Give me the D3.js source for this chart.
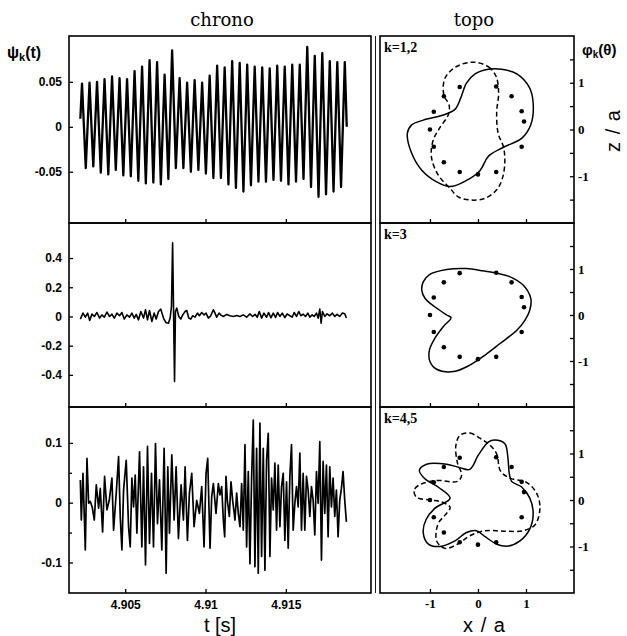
<!DOCTYPE html>
<html><head><meta charset="utf-8">
<script src="https://cdn.jsdelivr.net/npm/d3@7"></script>
<style>
html,body{margin:0;padding:0;background:#fff;}
svg{display:block;}
</style></head><body>
<svg id="chart" width="627" height="636"></svg>
<script>
// ---------------- data ----------------
// chrono series: times are in ms after T0 seconds
const T0 = 4.9;

// mode k=1,2: alternating extrema of the rotating oscillation
const psi12Start = [2.205, 0.009];
const psi12End = [18.79, 0.0];
const psi12FirstPeakMs = 2.31;
const psi12HalfPeriodMs = 0.2337;
const psi12Peaks = [0.048,0.049,0.050,0.053,0.056,0.054,0.053,0.062,0.067,0.074,0.072,0.058,0.085,0.054,0.049,0.052,0.049,0.057,0.068,0.066,0.073,0.071,0.069,0.067,0.066,0.065,0.068,0.067,0.069,0.069,0.089,0.079,0.082,0.073,0.072,0.072];
const psi12Troughs = [-0.046,-0.044,-0.051,-0.053,-0.048,-0.054,-0.055,-0.060,-0.063,-0.062,-0.064,-0.058,-0.046,-0.046,-0.050,-0.048,-0.052,-0.057,-0.057,-0.064,-0.068,-0.072,-0.065,-0.061,-0.061,-0.059,-0.060,-0.064,-0.061,-0.058,-0.067,-0.078,-0.075,-0.072,-0.067];

// mode k=3: [ms, value]
const psi3 = [[2.205,-0.018],[2.371,0.023],[2.516,-0.005],[2.661,0.023],[2.785,-0.027],[2.930,0.016],[3.075,0.000],[3.240,0.027],[3.406,-0.011],[3.551,0.011],[3.696,-0.005],[3.861,0.030],[4.027,0.000],[4.172,0.016],[4.317,-0.011],[4.483,0.023],[4.648,0.005],[4.793,0.027],[4.938,-0.018],[5.104,0.011],[5.269,-0.005],[5.414,0.023],[5.559,-0.011],[5.683,0.014],[5.828,-0.023],[5.973,0.034],[6.139,-0.011],[6.263,0.046],[6.387,-0.023],[6.511,0.041],[6.656,-0.034],[6.801,0.023],[6.926,-0.018],[7.071,0.034],[7.215,0.050],[7.381,-0.011],[7.526,-0.041],[7.692,-0.046],[7.795,-0.011],[7.878,0.068],[7.95,0.505],[8.07,-0.445],[8.126,0.034],[8.209,0.057],[8.334,0.000],[8.458,-0.018],[8.582,0.011],[8.727,0.034],[8.830,0.041],[8.955,-0.011],[9.079,-0.018],[9.203,0.005],[9.348,-0.005],[9.493,0.023],[9.617,0.005],[9.762,0.027],[9.907,0.011],[10.031,0.023],[10.176,-0.011],[10.321,0.005],[10.487,0.046],[10.590,0.023],[10.694,-0.005],[10.839,0.023],[10.963,0.009],[11.108,0.000],[11.315,0.014],[11.522,0.005],[11.729,0.000],[11.936,0.007],[12.143,0.000],[12.350,0.011],[12.557,-0.005],[12.764,0.018],[12.930,0.000],[13.095,0.014],[13.220,-0.005],[13.344,0.034],[13.489,-0.011],[13.634,0.023],[13.800,-0.005],[13.924,0.027],[14.069,-0.009],[14.214,0.023],[14.358,-0.007],[14.483,0.027],[14.628,0.000],[14.772,0.023],[14.938,-0.007],[15.083,0.018],[15.249,0.005],[15.394,-0.005],[15.518,0.027],[15.663,0.000],[15.808,0.034],[15.932,0.005],[16.077,0.016],[16.222,0.000],[16.367,0.023],[16.491,-0.005],[16.636,0.011],[16.760,0.000],[16.905,0.023],[17.009,-0.011],[17.112,0.050],[17.195,-0.046],[17.278,0.034],[17.423,0.000],[17.567,0.018],[17.733,0.005],[17.899,0.023],[18.044,0.000],[18.189,0.014],[18.354,0.000],[18.520,0.023],[18.665,0.018],[18.768,-0.011]];

// mode k=4,5: [ms, value]
const psi45 = [[2.205,0.038],[2.267,-0.029],[2.371,0.049],[2.516,-0.079],[2.619,0.074],[2.723,-0.001],[2.826,0.002],[2.950,-0.008],[3.075,-0.029],[3.199,0.030],[3.344,-0.009],[3.447,0.024],[3.592,-0.049],[3.716,0.044],[3.861,-0.012],[4.006,0.004],[4.172,0.041],[4.275,-0.046],[4.441,0.016],[4.586,0.077],[4.690,-0.023],[4.793,-0.079],[4.897,0.021],[5.062,0.071],[5.207,-0.040],[5.311,-0.074],[5.414,0.041],[5.518,-0.007],[5.621,0.046],[5.725,-0.051],[5.891,0.085],[6.035,-0.074],[6.139,0.060],[6.263,-0.104],[6.387,0.094],[6.511,-0.068],[6.636,0.049],[6.760,-0.074],[6.884,0.099],[7.008,-0.035],[7.133,0.038],[7.278,-0.079],[7.422,0.091],[7.547,-0.118],[7.650,0.060],[7.754,-0.051],[7.899,0.080],[8.044,-0.029],[8.168,0.060],[8.313,-0.060],[8.478,0.030],[8.623,-0.029],[8.727,0.060],[8.872,-0.063],[8.996,0.016],[9.141,0.049],[9.286,-0.040],[9.451,0.004],[9.617,-0.018],[9.762,0.027],[9.907,-0.074],[10.031,0.049],[10.135,0.074],[10.280,-0.076],[10.383,0.010],[10.487,0.032],[10.652,-0.018],[10.797,0.032],[10.901,0.013],[11.005,0.027],[11.108,-0.029],[11.191,-0.057],[11.274,0.044],[11.356,0.004],[11.481,-0.023],[11.584,0.035],[11.688,0.004],[11.833,-0.029],[11.936,0.016],[12.040,-0.018],[12.143,-0.040],[12.247,0.032],[12.350,-0.046],[12.454,0.097],[12.557,-0.074],[12.661,0.052],[12.764,-0.102],[12.868,0.041],[12.971,0.138],[13.075,-0.107],[13.178,0.091],[13.282,-0.118],[13.385,0.133],[13.489,-0.090],[13.593,0.091],[13.696,-0.113],[13.800,0.071],[13.903,0.116],[14.007,-0.090],[14.110,0.041],[14.214,-0.012],[14.317,0.066],[14.421,-0.046],[14.524,0.063],[14.628,-0.040],[14.731,0.027],[14.835,0.049],[14.938,-0.063],[15.042,0.035],[15.145,-0.076],[15.249,0.044],[15.352,0.097],[15.456,-0.046],[15.559,-0.001],[15.663,0.027],[15.766,-0.007],[15.870,0.083],[15.973,-0.046],[16.077,0.049],[16.180,-0.046],[16.284,0.044],[16.387,0.021],[16.491,-0.023],[16.594,0.027],[16.698,0.004],[16.801,-0.054],[16.905,0.052],[17.009,-0.001],[17.112,0.102],[17.216,-0.096],[17.319,0.069],[17.423,-0.018],[17.526,0.063],[17.630,-0.057],[17.733,0.060],[17.837,-0.007],[17.940,0.041],[18.044,-0.023],[18.147,0.021],[18.251,-0.057],[18.354,0.004],[18.458,0.024],[18.561,0.052],[18.665,0.004],[18.768,-0.032]];

// axis ticks
const timeTicks = [4.905, 4.91, 4.915];
const psi12Ticks = [-0.05, 0, 0.05];
const psi3Ticks = [-0.4, -0.2, 0, 0.2, 0.4];
const psi45Ticks = [-0.1, 0, 0.1];
const psi45Minor = [-0.05, 0.05];
const topoTicks = [-1, 0, 1];
const topoMinor = [-1.5, -0.5, 0.5, 1.5];

// topo: probe positions [x/a, z/a]
const probes = [[-0.38,0.91],[0.38,0.92],[-0.71,0.71],[0.70,0.71],[-0.92,0.38],[0.91,0.39],[0.96,0.17],[-1.00,0.0],[-0.92,-0.37],[0.91,-0.37],[-0.71,-0.70],[-0.38,-0.91],[0.0,-0.96],[0.38,-0.91]];

// topo curves [x/a, z/a]
const topo1 = [[-1.47,-0.08],[-1.38,-0.51],[-1.17,-0.87],[-0.86,-1.12],[-0.58,-1.22],[-0.24,-1.09],[0.04,-0.88],[0.22,-0.57],[0.53,-0.38],[0.91,-0.19],[1.10,0.10],[1.15,0.56],[1.07,0.90],[0.81,1.19],[0.49,1.29],[0.22,1.29],[-0.06,1.19],[-0.24,0.99],[-0.36,0.67],[-0.48,0.43],[-0.72,0.31],[-1.14,0.20],[-1.38,0.10]];
const topo2 = [[-0.10,1.44],[0.22,1.34],[0.38,1.13],[0.43,0.77],[0.39,0.38],[0.42,-0.08],[0.53,-0.37],[0.56,-0.69],[0.51,-1.04],[0.39,-1.29],[0.15,-1.47],[-0.13,-1.51],[-0.41,-1.44],[-0.58,-1.26],[-0.83,-0.97],[-0.97,-0.58],[-0.93,-0.22],[-0.78,0.06],[-0.62,0.31],[-0.60,0.52],[-0.71,0.74],[-0.69,1.09],[-0.46,1.34]];
const topo3 = [[-1.14,0.72],[-1.01,0.88],[-0.65,0.99],[-0.24,1.01],[0.11,0.96],[0.39,0.91],[0.67,0.83],[0.94,0.65],[1.10,0.36],[1.08,0.11],[0.98,-0.11],[0.81,-0.33],[0.46,-0.62],[0.15,-0.87],[-0.17,-1.09],[-0.51,-1.23],[-0.86,-1.18],[-1.00,-1.01],[-1.01,-0.76],[-0.90,-0.51],[-0.72,-0.25],[-0.56,-0.06],[-0.65,0.0],[-0.90,0.18],[-1.10,0.36],[-1.17,0.54]];
const topo4 = [[0.22,1.25],[0.35,1.29],[0.56,1.21],[0.62,0.95],[0.65,0.59],[0.70,0.40],[0.91,0.28],[1.08,0.04],[1.15,-0.29],[1.08,-0.62],[0.875,-0.88],[0.63,-0.99],[0.39,-0.95],[0.15,-0.79],[-0.03,-0.66],[-0.24,-0.70],[-0.48,-0.88],[-0.79,-1.00],[-1.03,-0.95],[-1.14,-0.70],[-1.08,-0.42],[-0.90,-0.18],[-0.58,0.04],[-0.83,0.28],[-1.10,0.45],[-1.22,0.64],[-1.07,0.77],[-0.65,0.77],[-0.39,0.70],[-0.17,0.66],[0.01,0.97]];
const topo5 = [[-0.375,1.39],[-0.17,1.44],[0.04,1.33],[0.24,1.19],[0.39,0.99],[0.47,0.62],[0.67,0.47],[1.01,0.38],[1.22,0.15],[1.29,-0.18],[1.19,-0.53],[0.94,-0.66],[0.53,-0.67],[0.15,-0.66],[-0.17,-0.77],[-0.41,-0.94],[-0.69,-1.04],[-0.86,-0.88],[-0.83,-0.51],[-0.69,-0.33],[-0.58,-0.16],[-0.76,-0.04],[-1.00,0.0],[-1.28,0.06],[-1.33,0.21],[-1.21,0.33],[-0.86,0.42],[-0.43,0.40],[-0.34,0.53],[-0.43,0.81],[-0.46,1.17]];

const modeLabels = ["k=1,2", "k=3", "k=4,5"];

// ---------------- layout ----------------
const svg = d3.select("#chart");
const L = {x0: 69, x1: 371};
const R = {x0: 380, x1: 574};
const rows = [[36, 223], [223, 407], [407, 593]];

const SANS = "'Liberation Sans', Arial, sans-serif";
const SERIF = "'Liberation Serif', 'Times New Roman', serif";

const tScale = d3.scaleLinear().domain([4.9015, 4.9203]).range([L.x0, L.x1]);
const yDomains = [[-0.107, 0.101], [-0.62, 0.64], [-0.151, 0.160]];
const yScales = rows.map((r, i) => d3.scaleLinear().domain(yDomains[i]).range([r[1], r[0]]));
const xTopo = d3.scaleLinear().domain([-2.04, 2.0]).range([R.x0, R.x1]);
const zTopos = rows.map(r => d3.scaleLinear().domain([-2, 2]).range([r[1], r[0]]));

// headers
svg.append("text").attr("x", 222).attr("y", 26).attr("text-anchor", "middle")
  .style("font-family", "'DejaVu Serif', serif").style("font-size", "18px").text("chrono");
svg.append("text").attr("x", 474).attr("y", 26).attr("text-anchor", "middle")
  .style("font-family", "'DejaVu Serif', serif").style("font-size", "18px").text("topo");

// axis helper: style ticks and labels
function styleAxis(g, font, size, weight) {
  g.select(".domain").remove();
  g.selectAll(".tick line").attr("stroke", "#000").attr("stroke-width", 1.3);
  g.selectAll(".tick text").attr("fill", "#000")
    .style("font-family", font).style("font-size", size + "px").style("font-weight", weight);
}
const fmt = d => String(d);

// ---------------- chrono panels ----------------
const chronoTicks = [psi12Ticks, psi3Ticks, psi45Ticks];
const psi12 = [psi12Start];
psi12Peaks.forEach((p, i) => {
  psi12.push([psi12FirstPeakMs + 2 * i * psi12HalfPeriodMs, p]);
  if (i < psi12Troughs.length) psi12.push([psi12FirstPeakMs + (2 * i + 1) * psi12HalfPeriodMs, psi12Troughs[i]]);
});
psi12.push(psi12End);
const chronoSeries = [psi12, psi3, psi45];
const chronoWidths = [2.3, 1.6, 1.7];

rows.forEach((r, i) => {
  const y = yScales[i];
  // y axis, ticks pointing inward
  const ga = svg.append("g").attr("transform", `translate(${L.x0},0)`)
    .call(d3.axisLeft(y).tickValues(chronoTicks[i]).tickFormat(fmt).tickSizeInner(-4).tickSizeOuter(0).tickPadding(7));
  styleAxis(ga, SANS, 12, "bold");
  if (i === 2) {
    const gm = svg.append("g").attr("transform", `translate(${L.x0},0)`)
      .call(d3.axisLeft(y).tickValues(psi45Minor).tickFormat("").tickSizeInner(-3).tickSizeOuter(0));
    styleAxis(gm, SANS, 12, "bold");
  }
  // time axis at the bottom of every panel
  const gx = svg.append("g").attr("transform", `translate(0,${r[1]})`)
    .call(d3.axisBottom(tScale).tickValues(timeTicks).tickFormat(i === 2 ? fmt : "").tickSizeInner(-4).tickSizeOuter(0).tickPadding(7));
  styleAxis(gx, SANS, 12, "bold");

  const line = d3.line().x(d => tScale(T0 + d[0] / 1000)).y(d => y(d[1]));
  svg.append("path").datum(chronoSeries[i]).attr("d", line)
    .attr("fill", "none").attr("stroke", "#000").attr("stroke-width", chronoWidths[i])
    .attr("stroke-linejoin", "round");

  svg.append("rect").attr("x", L.x0).attr("y", r[0]).attr("width", L.x1 - L.x0).attr("height", r[1] - r[0])
    .attr("fill", "none").attr("stroke", "#000").attr("stroke-width", 1.6);
});
// inner rule between the two columns
svg.append("line").attr("x1", 375.5).attr("x2", 375.5).attr("y1", 36).attr("y2", 593)
  .attr("stroke", "#000").attr("stroke-width", 0.9);

// ---------------- topo panels ----------------
const topoCurves = [[topo1, topo2], [topo3], [topo4, topo5]];
rows.forEach((r, i) => {
  const z = zTopos[i];
  const gr = svg.append("g").attr("transform", `translate(${R.x1},0)`)
    .call(d3.axisRight(z).tickValues(topoTicks).tickFormat(fmt).tickSizeInner(-4).tickSizeOuter(0).tickPadding(4));
  styleAxis(gr, SERIF, 13, "bold");
  const grm = svg.append("g").attr("transform", `translate(${R.x1},0)`)
    .call(d3.axisRight(z).tickValues(topoMinor).tickFormat("").tickSizeInner(-4).tickSizeOuter(0));
  styleAxis(grm, SERIF, 13, "bold");
  const gb = svg.append("g").attr("transform", `translate(0,${r[1]})`)
    .call(d3.axisBottom(xTopo).tickValues(topoTicks).tickFormat(i === 2 ? fmt : "").tickSizeInner(-4).tickSizeOuter(0).tickPadding(6));
  styleAxis(gb, SERIF, 13, "bold");

  const line = d3.line().x(d => xTopo(d[0])).y(d => z(d[1])).curve(d3.curveCatmullRomClosed.alpha(0.5));
  topoCurves[i].forEach((c, j) => {
    svg.append("path").datum(c).attr("d", line)
      .attr("fill", "none").attr("stroke", "#000").attr("stroke-width", 1.5)
      .attr("stroke-dasharray", j === 1 ? "5,3" : null);
  });
  svg.append("g").selectAll("circle").data(probes).join("circle")
    .attr("cx", d => xTopo(d[0])).attr("cy", d => z(d[1])).attr("r", 2.3).attr("fill", "#000");

  svg.append("text").attr("x", R.x0 + 4).attr("y", r[0] + 16)
    .style("font-family", SERIF).style("font-size", "14px").style("font-weight", "bold")
    .text(modeLabels[i]);

  svg.append("rect").attr("x", R.x0).attr("y", r[0]).attr("width", R.x1 - R.x0).attr("height", r[1] - r[0])
    .attr("fill", "none").attr("stroke", "#000").attr("stroke-width", 1.6);
});

// ---------------- axis titles ----------------
const psiLabel = svg.append("text").attr("x", 7).attr("y", 58)
  .style("font-family", SANS).style("font-weight", "bold").style("font-size", "16px");
psiLabel.append("tspan").text("\u03C8");
psiLabel.append("tspan").attr("dy", 3).style("font-size", "11px").text("k");
psiLabel.append("tspan").attr("dy", -3).text("(t)");

const phiLabel = svg.append("text").attr("x", 582).attr("y", 55)
  .style("font-family", SANS).style("font-weight", "bold").style("font-size", "15px");
phiLabel.append("tspan").text("\u03C6");
phiLabel.append("tspan").attr("dy", 3).style("font-size", "10px").text("k");
phiLabel.append("tspan").attr("dy", -3).text("(\u03B8)");

svg.append("text").attr("transform", "translate(620,131) rotate(-90)").attr("text-anchor", "middle")
  .style("font-family", SANS).style("font-size", "20px").style("word-spacing", "2px").text("z / a");
svg.append("text").attr("x", 220).attr("y", 632).attr("text-anchor", "middle")
  .style("font-family", SANS).style("font-size", "20px").text("t [s]");
svg.append("text").attr("x", 484).attr("y", 632).attr("text-anchor", "middle")
  .style("font-family", SANS).style("font-size", "20px").style("word-spacing", "2px").text("x / a");
</script>
</body></html>
